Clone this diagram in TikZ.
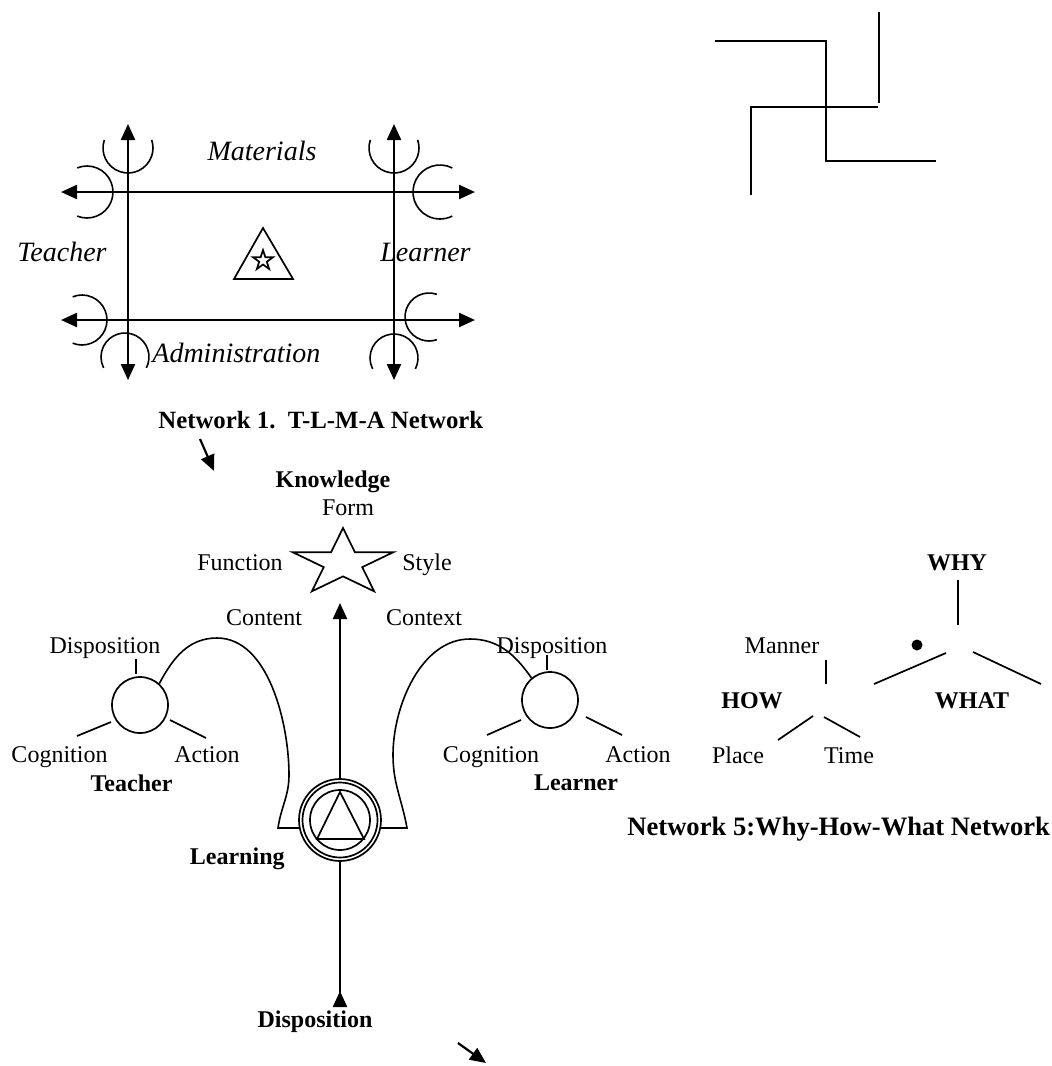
\documentclass[tikz,border=0pt]{standalone}
\usepackage{fontspec}
\setmainfont{Liberation Serif}
\usetikzlibrary{arrows.meta}
\tikzset{
  >={Triangle[length=8pt,width=7pt]},
  heavy/.style={line width=1.2pt},
  thinln/.style={line width=0.85pt},
  arcln/.style={line width=0.8pt},
  lbl/.style={font=\fontsize{12}{14}\selectfont, inner sep=0pt, anchor=base},
  blbl/.style={lbl, font=\fontsize{12}{14}\selectfont\bfseries},
  ilbl/.style={font=\fontsize{14}{16}\selectfont\itshape, inner sep=0pt, anchor=base},
  ring/.style={circle, draw, line width=0.85pt, inner sep=0pt},
}
\begin{document}
\begin{tikzpicture}[x=0.5pt,y=0.5pt]
\path[use as bounding box] (0,0) rectangle (1051,-1066);

% ---------------- Network 1 ----------------
\draw[heavy,<->] (128,-124) -- (128,-380);
\draw[heavy,<->] (394,-124) -- (394,-380);
\draw[heavy,<->] (61,-192) -- (475,-192);
\draw[heavy,<->] (61,-320) -- (475,-320);
% arcs around arrow ends
\draw[arcln] (128,-148) ++(161:25) arc[start angle=161,end angle=379,radius=25];
\draw[arcln] (394,-148) ++(161:25) arc[start angle=161,end angle=379,radius=25];
\draw[arcln] (87,-192) ++(112:26) arc[start angle=112,end angle=-112,radius=26];
\draw[arcln] (440,-192) ++(63:27) arc[start angle=63,end angle=297,radius=27];
\draw[arcln] (82,-320) ++(112:25) arc[start angle=112,end angle=-112,radius=25];
\draw[arcln] (429,-317) ++(71:24) arc[start angle=71,end angle=289,radius=24];
\draw[arcln] (125,-357) ++(-27:24) arc[start angle=-27,end angle=207,radius=24];
\draw[arcln] (394,-358) ++(-27:24) arc[start angle=-27,end angle=207,radius=24];
% triangle with star
\draw[thinln] (263,-228) -- (234,-279) -- (293,-279) -- cycle;
\begin{scope}[shift={(263,-260.5)},scale=10.5]
\draw[line width=0.85pt] (90:1) -- (126:0.382) -- (162:1) -- (198:0.382) -- (234:1) -- (270:0.382) -- (306:1) -- (342:0.382) -- (18:1) -- (54:0.382) -- cycle;
\end{scope}
\node[ilbl] (mat) at (262,-160) {Materials};
\node[ilbl,anchor=base east] (tea) at (107,-261) {Teacher};
\node[ilbl,anchor=base west] (lea) at (380,-261) {Learner};
\node[ilbl,anchor=base west] (adm) at (152,-362) {Administration};
\node[blbl,anchor=base west,font=\fontsize{12.4}{14}\selectfont\bfseries] (t1) at (158,-428) {Network 1.\ \ T-L-M-A Network};

% small arrows
\coordinate (a1s) at (200,-439); \coordinate (a1e) at (214,-471);
\draw[line width=1.1pt,->] (a1s) -- (a1e);
\coordinate (a2s) at (458,-1043); \coordinate (a2e) at (486,-1063);
\draw[line width=1.1pt,->] (a2s) -- (a2e);

% swastika-like figure
\draw[line width=1pt] (715,-41) -- (826,-41) -- (826,-161) -- (936,-161);
\draw[line width=1pt] (879,-12) -- (879,-103);
\draw[line width=1pt] (878,-107) -- (751,-107) -- (751,-195);

% ---------------- Central network ----------------
\node[blbl] (know) at (333,-487) {Knowledge};
\node[lbl] (form) at (348,-515) {Form};
\begin{scope}[shift={(343,-563)},xscale=53,yscale=35]
\draw[line width=0.85pt] (90:1) -- (126:0.382) -- (162:1) -- (198:0.382) -- (234:1) -- (270:0.382) -- (306:1) -- (342:0.382) -- (18:1) -- (54:0.382) -- cycle;
\end{scope}
\node[lbl] (func) at (240,-570) {Function};
\node[lbl] (sty) at (427,-570) {Style};
\node[lbl] (cont) at (264,-625) {Content};
\node[lbl] (ctx) at (424,-625) {Context};

% learning circle
\node[ring, minimum size=41pt] (lc) at (340,-820) {};
\draw[thinln] (lc.center) circle[radius=37.5];
\draw[thinln] (lc.center) circle[radius=30];
\draw[thinln] (340,-792) -- (317,-839) -- (364,-839) -- cycle;
\node[blbl,anchor=base east] (lrn) at (285,-864) {Learning};
\coordinate (kt) at (340,-603);
\draw[line width=1.05pt,->] (lc.north) -- (kt);
\coordinate (db) at (340,-1007);
\draw[line width=1.05pt,-{Triangle[length=8pt,width=7pt,reversed]}] (lc.south) -- (db);
\node[blbl] (disp) at (315,-1027) {Disposition};

% teacher
\node[ring, minimum size=28pt] (tc) at (140,-705) {};
\draw[thinln] (136,-659) -- (136,-674);
\draw[thinln] (77,-736) -- (111,-722);
\draw[thinln] (170,-720) -- (206,-738);
\node[lbl] (tdisp) at (105,-653) {Disposition};
\node[lbl] (tcog) at (59.5,-762) {Cognition};
\node[lbl] (tact) at (207,-762) {Action};
\node[blbl] (tname) at (131.5,-791) {Teacher};

% learner
\node[ring, minimum size=28pt] (lnc) at (550,-700) {};
\draw[thinln] (547,-655) -- (547,-670);
\draw[thinln] (487,-735) -- (521,-720);
\draw[thinln] (586,-717) -- (622,-735);
\node[lbl] (ldisp) at (552,-653) {Disposition};
\node[lbl] (lcog) at (491,-762) {Cognition};
\node[lbl] (lact) at (638,-762) {Action};
\node[blbl] (lname) at (576,-790) {Learner};

% big arcs
\draw[arcln] (tc.48) to[out=62,in=180] (217,-638) to[out=0,in=90,looseness=0.85] (289,-775) to[out=-90,in=82] (278,-828) -- (lc.191);
\draw[arcln] (lc.-11) -- (407,-828) to[out=100,in=-90] (393,-755) to[out=90,in=180,looseness=0.9] (470,-639) to[out=0,in=125] (lnc.130);

% ---------------- Network 5 ----------------
\node[blbl] (why) at (957,-570) {WHY};
\draw[thinln] (958,-580) -- (958,-625);
\fill (917,-645) circle[radius=5.5];
\draw[thinln] (874,-684) -- (946,-653);
\draw[thinln] (973,-652) -- (1041,-684);
\node[blbl] (what) at (972,-708) {WHAT};
\node[lbl] (man) at (782,-653) {Manner};
\draw[thinln] (826,-660) -- (826,-684);
\node[blbl] (how) at (752,-708) {HOW};
\draw[thinln] (778,-740) -- (813,-716);
\draw[thinln] (824,-717) -- (860,-737);
\node[lbl] (plc) at (738,-763) {Place};
\node[lbl] (tim) at (849,-763) {Time};
\node[blbl,anchor=base west,font=\fontsize{13.3}{15}\selectfont\bfseries] (t5) at (627,-835) {Network 5:Why-How-What Network};
\end{tikzpicture}
\end{document}
